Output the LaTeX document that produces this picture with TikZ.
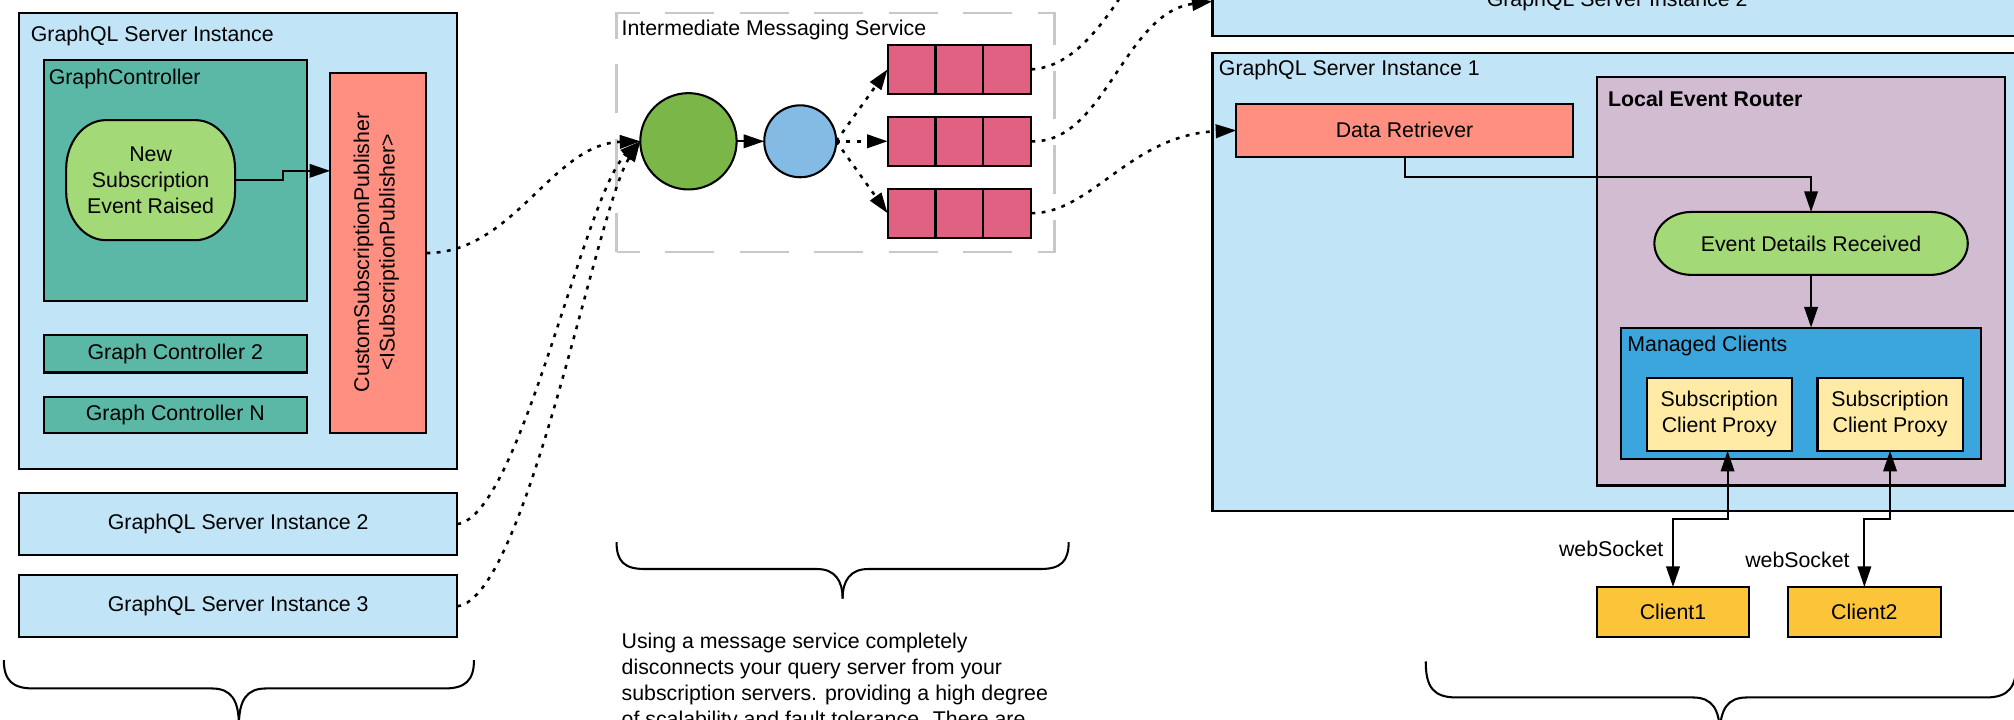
\documentclass[tikz,border=0pt]{standalone}
\usepackage{fontspec}
\setmainfont{Liberation Sans}
\usetikzlibrary{arrows.meta,calc}

\definecolor{srvblue}{HTML}{C1E4F7}
\definecolor{ctrlteal}{HTML}{5CB8A6}
\definecolor{evgreen}{HTML}{A3D977}
\definecolor{salmon}{HTML}{FF8F80}
\definecolor{busgreen}{HTML}{7AB648}
\definecolor{exblue}{HTML}{83BBE5}
\definecolor{qpink}{HTML}{E06182}
\definecolor{routerlilac}{HTML}{D1BCD2}
\definecolor{mgdblue}{HTML}{3AA6DD}
\definecolor{proxyyellow}{HTML}{FFEBA6}
\definecolor{clientyellow}{HTML}{FCC438}
\definecolor{dashgray}{HTML}{C8C8C8}

% capsule outline: centre (#1,#2), half width #3, half height #4,
% elliptic corner radii #5 (x) and #6 (y), fill colour #7
\newcommand\drawcapsule[7]{%
  \draw[outline, fill=#7] ({#1-#3+#5},{#2-#4}) -- ({#1+#3-#5},{#2-#4})
    arc[start angle=90,end angle=0,x radius=#5pt,y radius=#6pt]
    -- ({#1+#3},{#2+#4-#6})
    arc[start angle=0,end angle=-90,x radius=#5pt,y radius=#6pt]
    -- ({#1-#3+#5},{#2+#4})
    arc[start angle=270,end angle=180,x radius=#5pt,y radius=#6pt]
    -- ({#1-#3},{#2-#4+#6})
    arc[start angle=180,end angle=90,x radius=#5pt,y radius=#6pt]
    -- cycle;}

\begin{document}
\begin{tikzpicture}[x=1pt,y=-1pt,
  every node/.style={font=\fontsize{16.6}{20}\selectfont, inner sep=0pt, outer sep=0pt},
  outline/.style={draw=black, line width=1.6pt},
  box/.style={outline, align=center},
  lbl/.style={anchor=base west},
  headtip/.style={-{Triangle[length=16pt,width=10.5pt]}},
  bothtips/.style={{Triangle[length=16pt,width=10.5pt]}-{Triangle[length=16pt,width=10.5pt]}},
  solidline/.style={line width=1.6pt},
  dotline/.style={line width=2pt, dash pattern=on 3pt off 5pt},
  brace/.style={line width=1.6pt},
]
\useasboundingbox (0,0) rectangle (1568,560);
\clip (0,0) rectangle (1568,560);

% ---------------- query server ----------------
\node[box, fill=srvblue, minimum width=341pt, minimum height=355pt] (srv) at (185.5,187.5) {};
\node[lbl] (srvlbl) at (24,32) {GraphQL Server Instance};
\node[box, fill=ctrlteal, minimum width=205pt, minimum height=187pt] (gc) at (136.5,140.5) {};
\node[lbl] (gclbl) at (38,66) {GraphController};
\drawcapsule{117.25}{140.25}{65.75}{46.75}{31}{38}{evgreen}
\node[align=center, minimum width=131.5pt, minimum height=93.5pt] (nse) at (117.25,140.25) {New\\Subscription\\Event Raised};
\node[box, fill=salmon, minimum width=75pt, minimum height=280pt] (csp) at (294.5,197) {};
\node[rotate=90, align=center] (csptext) at (293,196.5) {CustomSubscriptionPublisher\\<ISubscriptionPublisher>};
\node[box, fill=ctrlteal, minimum width=205pt, minimum height=29pt] (gc2) at (136.5,275.5) {Graph Controller 2};
\node[box, fill=ctrlteal, minimum width=205pt, minimum height=28pt] (gcn) at (136.5,323) {Graph Controller N};
\node[box, fill=srvblue, minimum width=341pt, minimum height=48pt] (srv2) at (185.5,408) {GraphQL Server Instance 2};
\node[box, fill=srvblue, minimum width=341pt, minimum height=48pt] (srv3) at (185.5,472) {GraphQL Server Instance 3};

\coordinate (nsebend) at (220,133);
\draw[solidline, headtip] (nse.east) -| (nsebend) -- (nsebend -| csp.west);

% ---------------- messaging service ----------------
\node[draw=dashgray, line width=1.8pt, dash pattern=on 38pt off 20pt, dash phase=20pt,
      minimum width=341pt, minimum height=186pt] (ims) at (650.5,103) {};
\node[lbl] (imslbl) at (484,28) {Intermediate Messaging Service};
\node[circle, outline, fill=busgreen, minimum size=75pt] (bus) at (536,110) {};
\node[circle, outline, fill=exblue, minimum size=56pt] (ex) at (623,110) {};
\foreach \i/\y in {1/54,2/110,3/166}{
  \node[box, fill=qpink, minimum width=112pt, minimum height=38pt] (q\i) at (747,\y) {};
  \draw[outline] ($(q\i.north west)!1/3!(q\i.north east)$) -- ($(q\i.south west)!1/3!(q\i.south east)$);
  \draw[outline] ($(q\i.north west)!2/3!(q\i.north east)$) -- ($(q\i.south west)!2/3!(q\i.south east)$);
}

\draw[dotline, headtip] (csp.east) .. controls (400,197) and (430,112) .. (bus.west);
\draw[dotline, headtip] (srv2.east) .. controls (405,402) and (455,150) .. (bus.west);
\draw[dotline, headtip] (srv3.east) .. controls (410,466) and (465,160) .. (bus.west);
\draw[solidline, headtip] (bus) -- (ex);
\draw[dotline, headtip] (ex.east) -- (q1.west);
\draw[dotline, headtip] (ex.east) -- (q2.west);
\draw[dotline, headtip] (ex.east) -- (q3.west);

% ---------------- subscription servers ----------------
\node[box, fill=srvblue, minimum width=630pt, minimum height=54pt] (rsrv2) at (1259,1) {GraphQL Server Instance 2};
\node[box, fill=srvblue, minimum width=630pt, minimum height=357pt] (rsrv1) at (1259,219.5) {};
\node[lbl] (rsrv1lbl) at (949,59) {GraphQL Server Instance 1};
\node[box, fill=salmon, minimum width=262pt, minimum height=41pt] (dr) at (1093.5,101.5) {Data Retriever};
\node[box, fill=routerlilac, minimum width=318pt, minimum height=318pt] (ler) at (1402,219) {};
\node[lbl, font=\fontsize{16.6}{20}\selectfont\bfseries] (lerlbl) at (1252,83) {Local Event Router};
\drawcapsule{1410}{189.5}{122}{24.5}{29}{24.5}{evgreen}
\node[minimum width=244pt, minimum height=49pt] (eds) at (1410,189.5) {Event Details Received};
\node[box, fill=mgdblue, minimum width=280pt, minimum height=102pt] (mc) at (1402,306) {};
\node[lbl] (mclbl) at (1267,274) {Managed Clients};
\node[box, fill=proxyyellow, minimum width=113pt, minimum height=57pt] (p1) at (1338.5,322.5) {Subscription\\Client Proxy};
\node[box, fill=proxyyellow, minimum width=113pt, minimum height=57pt] (p2) at (1471.5,322.5) {Subscription\\Client Proxy};
\node[box, fill=clientyellow, minimum width=119pt, minimum height=39pt] (c1) at (1302.5,476.5) {Client1};
\node[box, fill=clientyellow, minimum width=119pt, minimum height=39pt] (c2) at (1451.5,476.5) {Client2};

\coordinate (offtop) at (895,-40);
\draw[dotline] (q1.east) .. controls (835,52) and (860,22) .. (offtop);
\draw[dotline, headtip] (q2.east) .. controls (860,112) and (875,10) .. (rsrv2.west);
\draw[dotline, headtip] (q3.east) .. controls (850,166) and (880,105) .. (dr.west);

\coordinate (drbend) at (1093.5,137.5);
\draw[solidline, headtip] (dr.south) -- (drbend) -| (eds.north);
\draw[solidline, headtip] (eds.south) -- (eds.south |- mc.north);
\draw[solidline, bothtips] ([xshift=6.5pt]p1.south) -- ++(0,53) -| (c1.north);
\draw[solidline, bothtips] (p2.south) -- ++(0,53) -| (c2.north);
\node[anchor=base east] (ws1) at (1295,433) {webSocket};
\node[anchor=base east] (ws2) at (1440,442) {webSocket};

% ---------------- braces and note ----------------
\draw[brace] (3,514) .. controls (3,530) and (10,536) .. (26,536) -- (165,536)
  .. controls (180,536) and (186,545) .. (186,565);
\draw[brace] (369,514) .. controls (369,530) and (362,536) .. (346,536) -- (207,536)
  .. controls (192,536) and (186,545) .. (186,565);
\draw[brace] (480,422) .. controls (480,437) and (486,443) .. (502,443) -- (636,443)
  .. controls (650,443) and (656,452) .. (656,466);
\draw[brace] (832,422) .. controls (832,437) and (826,443) .. (810,443) -- (676,443)
  .. controls (662,443) and (656,452) .. (656,466);
\draw[brace] (1110,515) .. controls (1110,535) and (1116,543) .. (1134,543) -- (1318,543)
  .. controls (1333,543) and (1339,552) .. (1339,572);
\draw[brace] (1570,515) .. controls (1570,535) and (1564,543) .. (1546,543) -- (1360,543)
  .. controls (1345,543) and (1339,552) .. (1339,572);

\node[anchor=north west, align=left, font=\fontsize{16.6}{20.2}\selectfont] (note) at (484,493)
  {Using a message service completely\\disconnects your query server from your\\subscription servers. providing a high degree\\of scalability and fault tolerance. There are};
\end{tikzpicture}
\end{document}
